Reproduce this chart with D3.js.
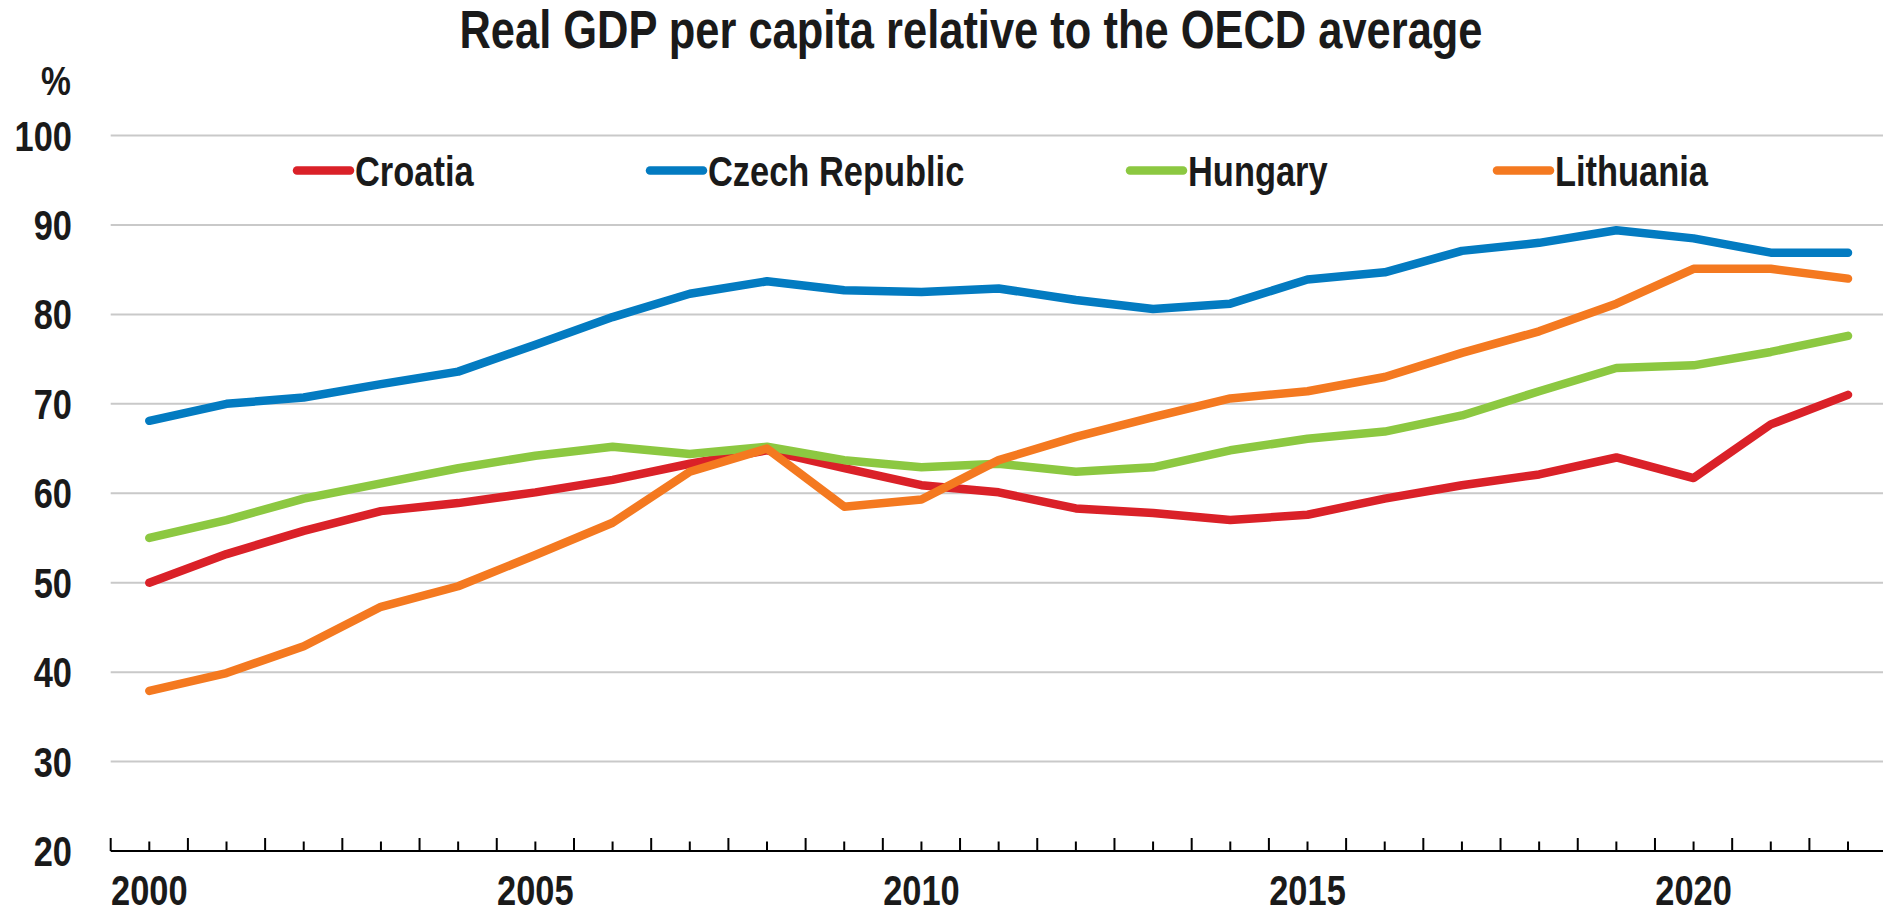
<!DOCTYPE html>
<html>
<head>
<meta charset="utf-8">
<title>Real GDP per capita relative to the OECD average</title>
<script src="https://cdn.jsdelivr.net/npm/d3@7"></script>
<style>
body{
    margin:0;
    background:#fff;
}
svg text{
    font-family:"Liberation Sans",Arial,sans-serif;
    font-weight:bold;
    fill:#1a1a1a;
}
</style>
</head>
<body>
<svg id="chart" width="1883" height="911"></svg>
<script>
var years = d3.range(2000, 2023);
var yearLabels = [2000, 2005, 2010, 2015, 2020];
var yTicks = [20, 30, 40, 50, 60, 70, 80, 90, 100];

var croatia = [50.0, 53.2, 55.8, 58.0, 58.9, 60.1, 61.5, 63.3, 64.8, 62.8, 60.9, 60.1,
               58.3, 57.8, 57.0, 57.6, 59.4, 60.9, 62.1, 64.0, 61.7, 67.7, 71.0];
var czech = [68.1, 70.0, 70.7, 72.2, 73.6, 76.6, 79.7, 82.3, 83.7, 82.7, 82.5, 82.9,
             81.6, 80.6, 81.2, 83.9, 84.7, 87.1, 88.0, 89.4, 88.5, 86.9, 86.9];
var hungary = [55.0, 57.0, 59.4, 61.1, 62.8, 64.2, 65.2, 64.4, 65.2, 63.7, 62.9, 63.3,
               62.4, 62.9, 64.8, 66.1, 66.9, 68.7, 71.4, 74.0, 74.3, 75.8, 77.6];
var lithuania = [37.9, 39.9, 42.9, 47.3, 49.6, 53.1, 56.7, 62.4, 65.0, 58.5, 59.3, 63.7,
                 66.3, 68.5, 70.6, 71.4, 73.0, 75.7, 78.1, 81.2, 85.1, 85.1, 84.0];

var seriesNames = ["Croatia", "Czech Republic", "Hungary", "Lithuania"];
var seriesValues = [croatia, czech, hungary, lithuania];
var seriesColors = ["#da2128", "#037bc1", "#8cc841", "#f47920"];

var svg = d3.select("#chart");

// no narrow font installed: squeeze Liberation Sans like Arial Narrow
var narrow = 0.82;
function label(parent, px, py, str, size, anchor){
    return parent.append("text")
        .attr("transform", "translate(" + px + "," + py + ") scale(" + narrow + ",1)")
        .attr("text-anchor", anchor || "start")
        .style("font-size", size + "px")
        .text(str);
}

// half a year on each side of the data points
var x = d3.scalePoint().domain(years).range([149.3, 1848]);
var step = x.step();
var axisLeft = x(2000) - step / 2;
var axisRight = x(2022) + step / 2;

var y = d3.scaleLinear().domain([20, 100]).range([851, 135.5]);

label(svg, 971, 48, "Real GDP per capita relative to the OECD average", 53, "middle");
label(svg, 71, 95, "%", 41, "end");

// gridlines
svg.append("g")
   .selectAll("line")
   .data(yTicks.filter(function(d){ return d > 20; }))
   .enter().append("line")
   .attr("x1", axisLeft)
   .attr("x2", axisRight)
   .attr("y1", function(d){ return y(d); })
   .attr("y2", function(d){ return y(d); })
   .style("stroke", "#c9c9c9")
   .style("stroke-width", 2);

// y labels
var yLab = svg.append("g");
yTicks.forEach(function(d){
    label(yLab, 72, y(d) + 15, d, 42, "end");
});

// x axis: long ticks between years, short ticks on the years
var xAxis = svg.append("g");
xAxis.append("line")
     .attr("x1", axisLeft).attr("x2", axisRight)
     .attr("y1", y(20)).attr("y2", y(20))
     .style("stroke", "#000").style("stroke-width", 2);

var edges = d3.range(years.length + 1).map(function(i){ return axisLeft + i * step; });
xAxis.selectAll(".major")
     .data(edges)
     .enter().append("line")
     .attr("class", "major")
     .attr("x1", function(d){ return d; }).attr("x2", function(d){ return d; })
     .attr("y1", y(20)).attr("y2", y(20) - 13)
     .style("stroke", "#000").style("stroke-width", 2);
xAxis.selectAll(".minor")
     .data(years)
     .enter().append("line")
     .attr("class", "minor")
     .attr("x1", function(d){ return x(d); }).attr("x2", function(d){ return x(d); })
     .attr("y1", y(20)).attr("y2", y(20) - 9.5)
     .style("stroke", "#000").style("stroke-width", 2);
yearLabels.forEach(function(d){
    label(xAxis, x(d), 905, d, 42, "middle");
});

// lines
var line = d3.line()
    .x(function(d, i){ return x(years[i]); })
    .y(function(d){ return y(d); });

svg.append("g")
   .selectAll("path")
   .data(seriesValues)
   .enter().append("path")
   .attr("d", line)
   .attr("fill", "none")
   .style("stroke", function(d, i){ return seriesColors[i]; })
   .style("stroke-width", 8.5)
   .style("stroke-linecap", "round")
   .style("stroke-linejoin", "round");

// legend
var legendX = [297, 650, 1130, 1497];
var legendY = 170.5;
var legend = svg.append("g");
seriesNames.forEach(function(name, i){
    legend.append("line")
          .attr("x1", legendX[i]).attr("x2", legendX[i] + 53)
          .attr("y1", legendY).attr("y2", legendY)
          .style("stroke", seriesColors[i])
          .style("stroke-width", 8.5)
          .style("stroke-linecap", "round");
    label(legend, legendX[i] + 58, legendY + 15, name, 42, "start");
});
</script>
</body>
</html>
